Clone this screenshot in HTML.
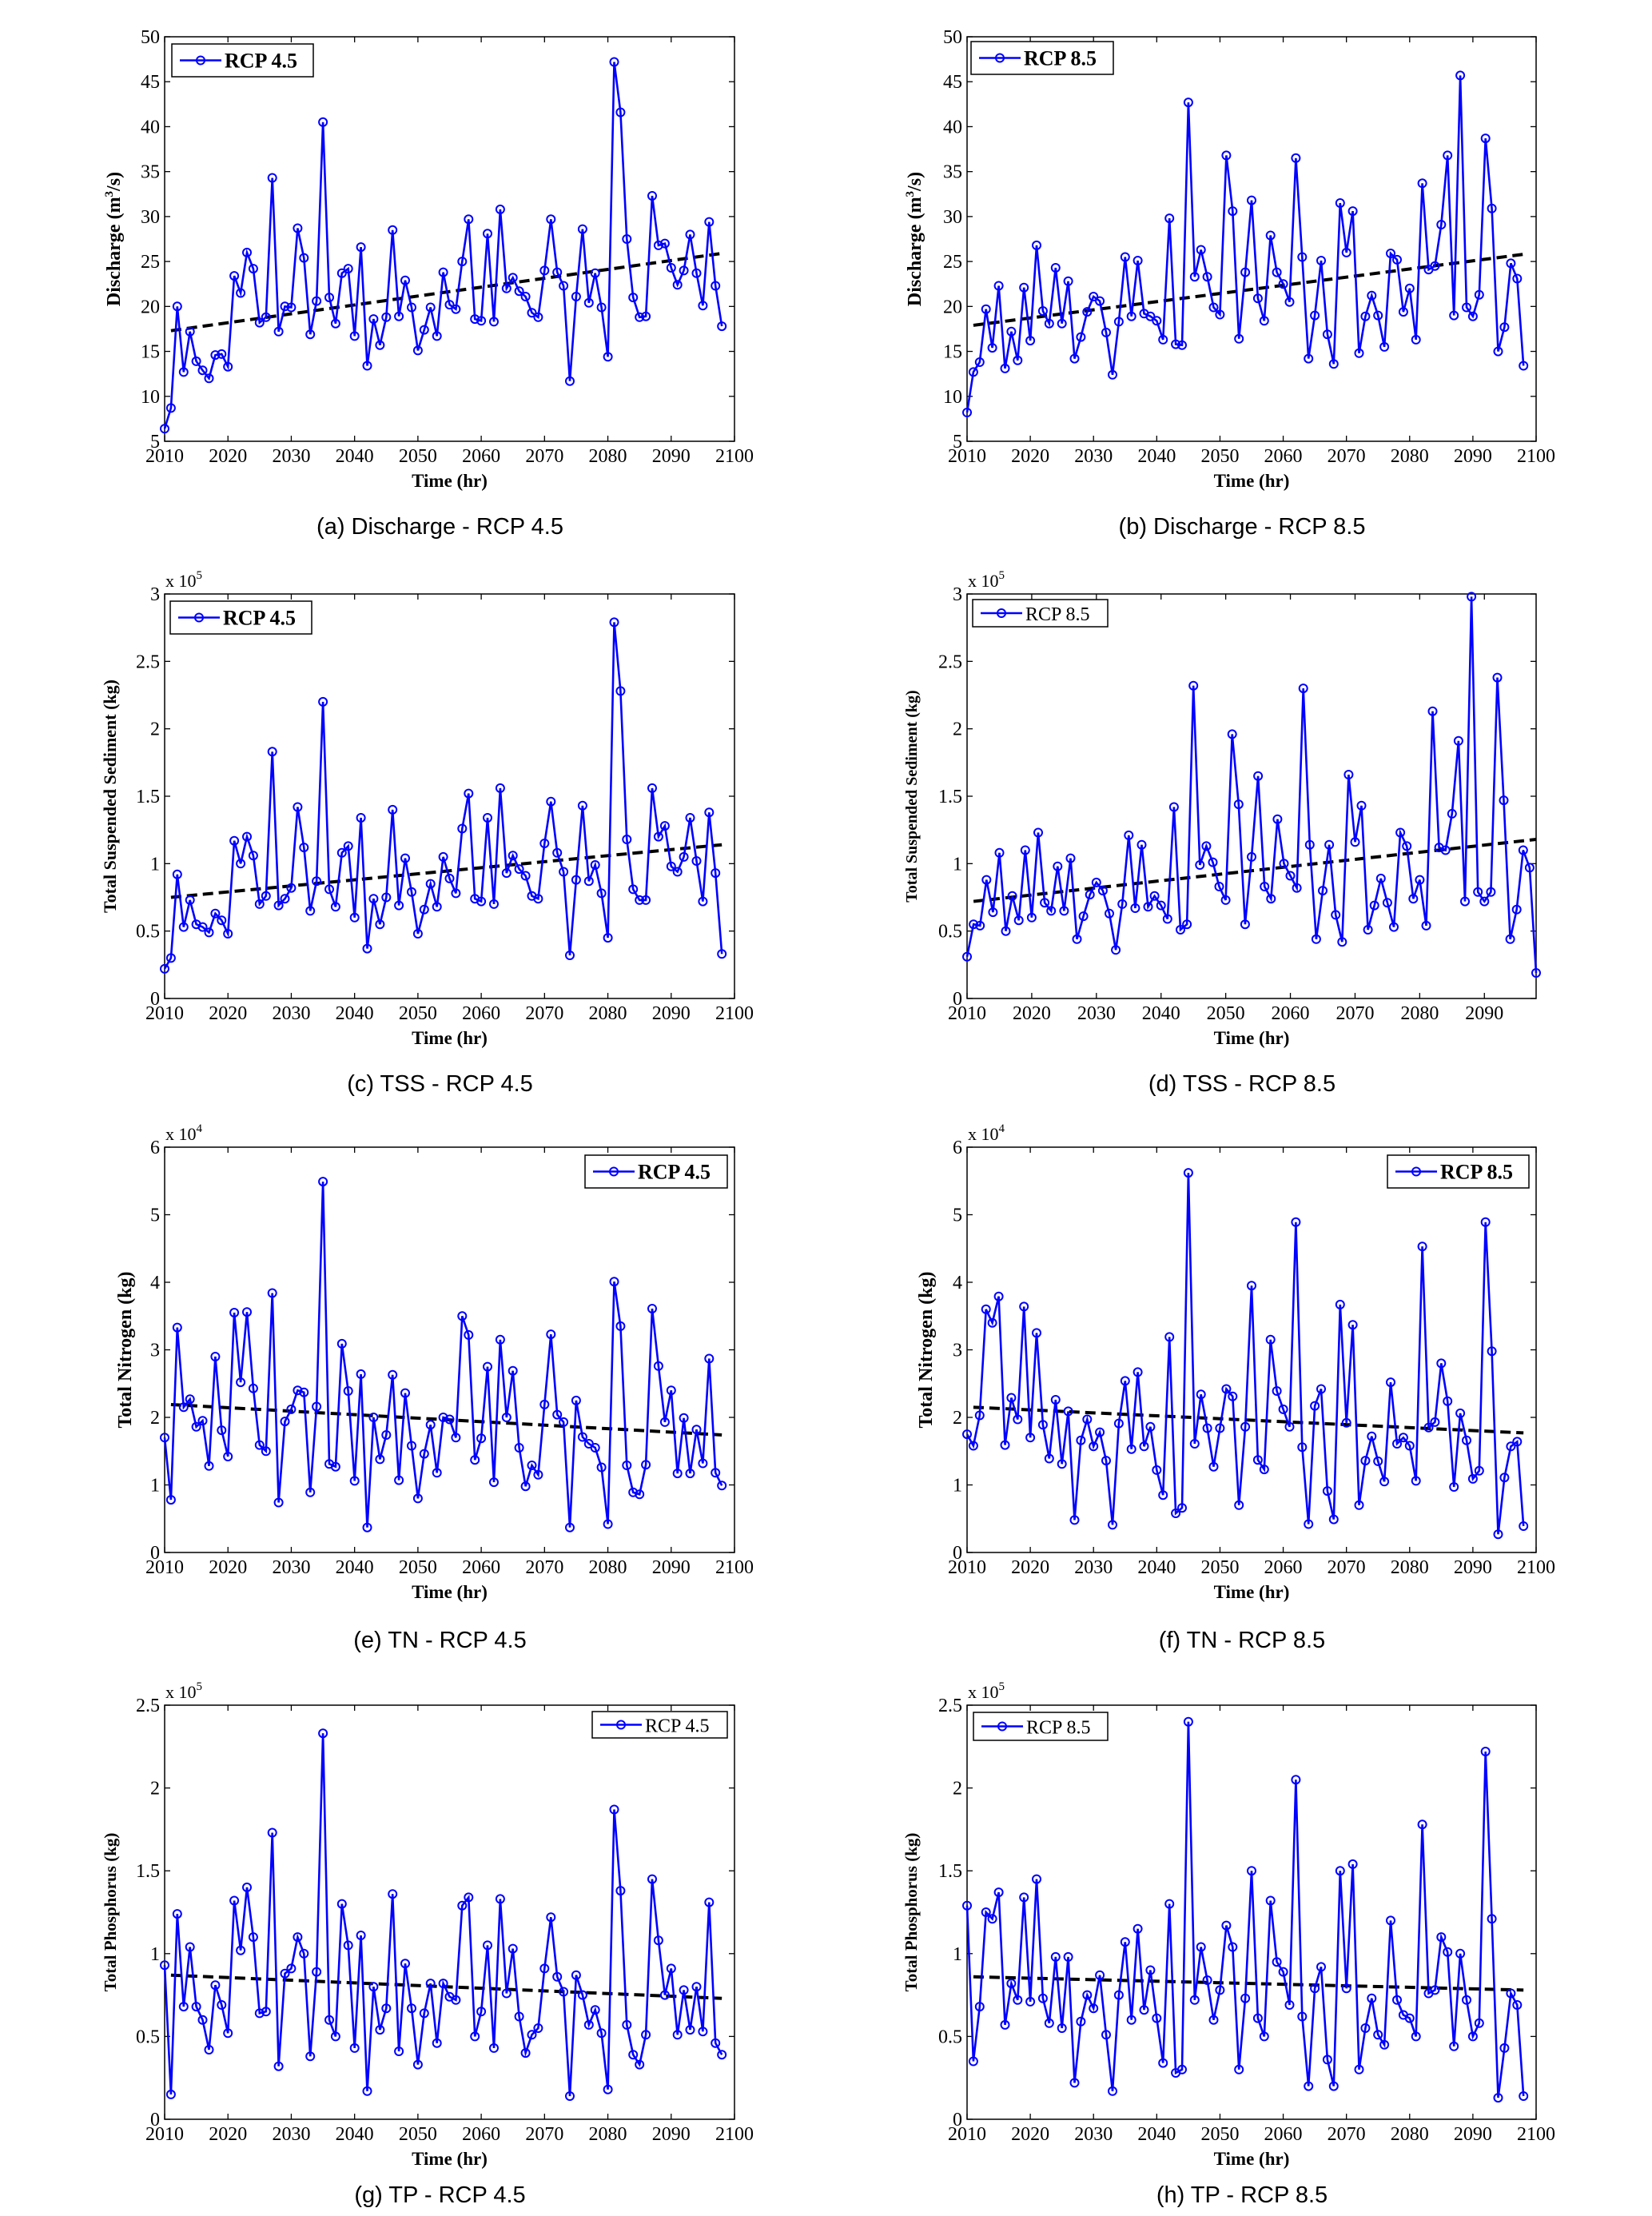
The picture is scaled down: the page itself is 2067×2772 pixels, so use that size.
<!DOCTYPE html>
<html><head><meta charset="utf-8"><style>
html,body{margin:0;padding:0;background:#fff;}
svg{display:block;}
text{font-family:"Liberation Serif",serif;}
.cap{font-family:"Liberation Sans","NanumGothic",sans-serif;font-size:29px;fill:#000;}
</style></head><body>
<svg id="s" width="2067" height="2772" xmlns="http://www.w3.org/2000/svg"></svg>
<script>
const D={
a:[6.4,8.7,20,12.7,17.2,13.9,12.9,12,14.6,14.7,13.3,23.4,21.5,26,24.2,18.2,18.8,34.3,17.2,20,19.9,28.7,25.4,16.9,20.6,40.5,21,18.1,23.7,24.2,16.7,26.6,13.4,18.6,15.7,18.8,28.5,18.9,22.9,19.9,15.1,17.4,19.9,16.7,23.8,20.2,19.7,25,29.7,18.6,18.4,28.1,18.3,30.8,22,23.2,21.7,21.1,19.3,18.8,24,29.7,23.8,22.3,11.7,21.1,28.6,20.4,23.7,19.9,14.4,47.2,41.6,27.5,21,18.8,18.9,32.3,26.8,27,24.3,22.4,24,28,23.7,20.1,29.4,22.3,17.8],
b:[8.2,12.7,13.8,19.7,15.4,22.3,13.1,17.2,14,22.1,16.2,26.8,19.5,18.1,24.3,18.1,22.8,14.2,16.6,19.4,21.1,20.6,17.1,12.4,18.3,25.5,18.9,25.1,19.2,18.9,18.4,16.3,29.8,15.8,15.7,42.7,23.3,26.3,23.3,19.9,19.1,36.8,30.6,16.4,23.8,31.8,20.9,18.4,27.9,23.8,22.5,20.5,36.5,25.5,14.2,19,25.1,16.9,13.6,31.5,26,30.6,14.8,18.9,21.2,19,15.5,25.9,25.2,19.4,22,16.3,33.7,24.1,24.5,29.1,36.8,19,45.7,19.9,18.9,21.3,38.7,30.9,15,17.7,24.8,23.1,13.4],
c:[0.22,0.30,0.92,0.53,0.73,0.55,0.53,0.49,0.63,0.58,0.48,1.17,1.0,1.2,1.06,0.70,0.76,1.83,0.69,0.74,0.82,1.42,1.12,0.65,0.87,2.2,0.81,0.68,1.08,1.13,0.6,1.34,0.37,0.74,0.55,0.75,1.4,0.69,1.04,0.79,0.48,0.66,0.85,0.68,1.05,0.89,0.78,1.26,1.52,0.74,0.72,1.34,0.70,1.56,0.93,1.06,0.96,0.91,0.76,0.74,1.15,1.46,1.08,0.94,0.32,0.88,1.43,0.87,0.99,0.78,0.45,2.79,2.28,1.18,0.81,0.73,0.73,1.56,1.2,1.28,0.98,0.94,1.05,1.34,1.02,0.72,1.38,0.93,0.33],
d:[0.31,0.55,0.54,0.88,0.64,1.08,0.50,0.76,0.58,1.1,0.6,1.23,0.71,0.65,0.98,0.65,1.04,0.44,0.61,0.77,0.86,0.8,0.63,0.36,0.70,1.21,0.67,1.14,0.68,0.76,0.69,0.59,1.42,0.51,0.55,2.32,0.99,1.13,1.01,0.83,0.73,1.96,1.44,0.55,1.05,1.65,0.83,0.74,1.33,1.0,0.91,0.82,2.3,1.14,0.44,0.80,1.14,0.62,0.42,1.66,1.16,1.43,0.51,0.69,0.89,0.71,0.53,1.23,1.13,0.74,0.88,0.54,2.13,1.12,1.1,1.37,1.91,0.72,2.98,0.79,0.72,0.79,2.38,1.47,0.44,0.66,1.10,0.97,0.19],
e:[1.70,0.78,3.33,2.15,2.27,1.86,1.95,1.28,2.90,1.81,1.42,3.55,2.52,3.56,2.43,1.59,1.50,3.84,0.74,1.94,2.12,2.40,2.37,0.89,2.16,5.49,1.31,1.27,3.09,2.39,1.06,2.64,0.37,2.0,1.38,1.74,2.63,1.07,2.36,1.58,0.80,1.46,1.89,1.18,2.0,1.97,1.70,3.50,3.22,1.37,1.69,2.75,1.04,3.15,2.0,2.69,1.55,0.98,1.29,1.15,2.19,3.23,2.04,1.93,0.37,2.25,1.71,1.61,1.55,1.26,0.42,4.01,3.35,1.29,0.89,0.86,1.30,3.61,2.76,1.93,2.40,1.17,1.99,1.17,1.82,1.32,2.87,1.18,0.99],
f:[1.75,1.58,2.03,3.60,3.40,3.79,1.59,2.29,1.97,3.64,1.70,3.25,1.89,1.39,2.26,1.31,2.09,0.48,1.66,1.97,1.57,1.78,1.36,0.41,1.91,2.54,1.53,2.67,1.57,1.86,1.22,0.85,3.19,0.58,0.66,5.62,1.61,2.34,1.84,1.27,1.84,2.42,2.31,0.70,1.86,3.95,1.37,1.23,3.15,2.39,2.12,1.86,4.89,1.56,0.42,2.17,2.42,0.91,0.49,3.67,1.92,3.37,0.70,1.36,1.72,1.35,1.05,2.52,1.61,1.70,1.58,1.06,4.53,1.85,1.93,2.80,2.24,0.97,2.06,1.66,1.09,1.21,4.89,2.98,0.27,1.11,1.57,1.64,0.39],
g:[0.93,0.15,1.24,0.68,1.04,0.68,0.60,0.42,0.81,0.69,0.52,1.32,1.02,1.40,1.10,0.64,0.65,1.73,0.32,0.88,0.91,1.10,1.0,0.38,0.89,2.33,0.60,0.50,1.30,1.05,0.43,1.11,0.17,0.80,0.54,0.67,1.36,0.41,0.94,0.67,0.33,0.64,0.82,0.46,0.82,0.74,0.72,1.29,1.34,0.50,0.65,1.05,0.43,1.33,0.76,1.03,0.62,0.40,0.51,0.55,0.91,1.22,0.86,0.77,0.14,0.87,0.75,0.57,0.66,0.52,0.18,1.87,1.38,0.57,0.39,0.33,0.51,1.45,1.08,0.75,0.91,0.51,0.78,0.54,0.80,0.53,1.31,0.46,0.39],
h:[1.29,0.35,0.68,1.25,1.21,1.37,0.57,0.82,0.72,1.34,0.71,1.45,0.73,0.58,0.98,0.55,0.98,0.22,0.59,0.75,0.67,0.87,0.51,0.17,0.75,1.07,0.6,1.15,0.66,0.9,0.61,0.34,1.3,0.28,0.3,2.4,0.72,1.04,0.84,0.6,0.78,1.17,1.04,0.3,0.73,1.5,0.61,0.5,1.32,0.95,0.89,0.69,2.05,0.62,0.2,0.79,0.92,0.36,0.2,1.5,0.79,1.54,0.3,0.55,0.73,0.51,0.45,1.2,0.72,0.63,0.61,0.5,1.78,0.76,0.78,1.1,1.01,0.44,1.0,0.72,0.5,0.58,2.22,1.21,0.13,0.43,0.76,0.69,0.14]
};
const L=206,R=919,OFF=1002;
const rows=[[46,552],[743,1249],[1435,1942],[2133,2651]];
const caps=[657,1354,2050,2744];
const P=[
{k:'a',col:0,row:0,ymin:5,ymax:50,step:5,dec:0,tr:[17.3,25.9],yl:'Discharge (m<tspan dy="-9" font-size="15">3</tspan><tspan dy="9">/s)</tspan>',ylx:150,yfs:24,leg:[215,55,392,96,true],cap:'(a) Discharge - RCP 4.5',lt:'RCP 4.5'},
{k:'b',col:1,row:0,ymin:5,ymax:50,step:5,dec:0,tr:[17.9,25.8],yl:'Discharge (m<tspan dy="-9" font-size="15">3</tspan><tspan dy="9">/s)</tspan>',ylx:150,yfs:24,leg:[1215,52,1393,93,true],cap:'(b) Discharge - RCP 8.5',lt:'RCP 8.5'},
{k:'c',col:0,row:1,ymin:0,ymax:3,step:0.5,dec:1,mult:5,tr:[0.75,1.14],yl:'Total Suspended Sediment (kg)',ylx:145,yfs:22,leg:[213,752,390,793,true],cap:'(c) TSS - RCP 4.5',lt:'RCP 4.5'},
{k:'d',col:1,row:1,ymin:0,ymax:3,step:0.5,dec:1,mult:5,xmax:2098,tr:[0.72,1.18],yl:'Total Suspended Sediment (kg)',ylx:145,yfs:20,leg:[1217,750,1386,784,false],cap:'(d) TSS - RCP 8.5',lt:'RCP 8.5'},
{k:'e',col:0,row:2,ymin:0,ymax:6,step:1,dec:0,mult:4,tr:[2.19,1.74],yl:'Total Nitrogen (kg)',ylx:164,yfs:24,leg:[732,1445,910,1486,true],cap:'(e) TN - RCP 4.5',lt:'RCP 4.5'},
{k:'f',col:1,row:2,ymin:0,ymax:6,step:1,dec:0,mult:4,tr:[2.15,1.77],yl:'Total Nitrogen (kg)',ylx:164,yfs:24,leg:[1736,1445,1913,1486,true],cap:'(f) TN - RCP 8.5',lt:'RCP 8.5'},
{k:'g',col:0,row:3,ymin:0,ymax:2.5,step:0.5,dec:1,mult:5,tr:[0.87,0.73],yl:'Total Phosphorus (kg)',ylx:145,yfs:21,leg:[741,2141,910,2174,false],cap:'(g) TP - RCP 4.5',lt:'RCP 4.5'},
{k:'h',col:1,row:3,ymin:0,ymax:2.5,step:0.5,dec:1,mult:5,tr:[0.86,0.78],yl:'Total Phosphorus (kg)',ylx:145,yfs:21,leg:[1218,2142,1386,2177,false],cap:'(h) TP - RCP 8.5',lt:'RCP 8.5'}
];
let o='';
function fmt(v,d){let s=v.toFixed(d);if(d&&s.endsWith('.0'))s=s.slice(0,-2);return s;}
for(const p of P){
 const x0=L+p.col*OFF+(p.col?2:0), x1=R+p.col*OFF+(p.col?1:0);
 const [t,b]=rows[p.row]; const xmax=p.xmax||2100;
 const X=yr=>x0+(yr-2010)/(xmax-2010)*(x1-x0);
 const Y=v=>b-(v-p.ymin)/(p.ymax-p.ymin)*(b-t);
 o+=`<rect x="${x0}" y="${t}" width="${x1-x0}" height="${b-t}" fill="#fff" stroke="#000" stroke-width="1.5"/>`;
 for(let yr=2010;yr<=xmax;yr+=10){const x=X(yr);
  o+=`<line x1="${x}" y1="${b}" x2="${x}" y2="${b-7}" stroke="#000" stroke-width="1.3"/><line x1="${x}" y1="${t}" x2="${x}" y2="${t+7}" stroke="#000" stroke-width="1.3"/>`;
  o+=`<text x="${x}" y="${b+26}" font-size="24" text-anchor="middle">${yr}</text>`;}
 for(let v=p.ymin;v<=p.ymax+1e-9;v+=p.step){const y=Y(v);
  o+=`<line x1="${x0}" y1="${y}" x2="${x0+7}" y2="${y}" stroke="#000" stroke-width="1.3"/><line x1="${x1}" y1="${y}" x2="${x1-7}" y2="${y}" stroke="#000" stroke-width="1.3"/>`;
  o+=`<text x="${x0-6}" y="${y+8}" font-size="24" text-anchor="end">${fmt(v,p.dec)}</text>`;}
 if(p.mult) o+=`<text x="${x0+1}" y="${t-9}" font-size="22">x 10<tspan dy="-10" font-size="15">${p.mult}</tspan></text>`;
 o+=`<text x="${(x0+x1)/2}" y="${b+57}" font-size="23" font-weight="bold" text-anchor="middle">Time (hr)</text>`;
 const ylx=p.ylx+p.col*OFF, yly=(t+b)/2;
 o+=`<text transform="translate(${ylx},${yly}) rotate(-90)" font-size="${p.yfs}" font-weight="bold" text-anchor="middle">${p.yl}</text>`;
 // trend
 o+=`<line x1="${X(2011)}" y1="${Y(p.tr[0])}" x2="${X(2098)}" y2="${Y(p.tr[1])}" stroke="#000" stroke-width="4" stroke-dasharray="13,7"/>`;
 const d=D[p.k]; let pts=d.map((v,i)=>X(2010+i).toFixed(1)+','+Y(v).toFixed(1)).join(' ');
 o+=`<polyline points="${pts}" fill="none" stroke="#0000ff" stroke-width="2.6"/>`;
 d.forEach((v,i)=>{o+=`<circle cx="${X(2010+i).toFixed(1)}" cy="${Y(v).toFixed(1)}" r="5" fill="none" stroke="#0000ff" stroke-width="2"/>`;});
 const [lx0,ly0,lx1,ly1,bold]=p.leg, lyc=(ly0+ly1)/2;
 o+=`<rect x="${lx0}" y="${ly0}" width="${lx1-lx0}" height="${ly1-ly0}" fill="#fff" stroke="#000" stroke-width="1.5"/>`;
 o+=`<line x1="${lx0+10}" y1="${lyc}" x2="${lx0+62}" y2="${lyc}" stroke="#0000ff" stroke-width="2.6"/><circle cx="${lx0+36}" cy="${lyc}" r="5" fill="none" stroke="#0000ff" stroke-width="2"/>`;
 o+=`<text x="${lx0+66}" y="${lyc+9}" font-size="${bold?26:24}" ${bold?'font-weight="bold"':''}>${p.lt}</text>`;
 o+=`<text class="cap" x="${(x0+x1)/2-12}" y="${caps[p.row]+11}" text-anchor="middle">${p.cap}</text>`;
}
document.getElementById('s').innerHTML=o;
</script>
</body></html>
